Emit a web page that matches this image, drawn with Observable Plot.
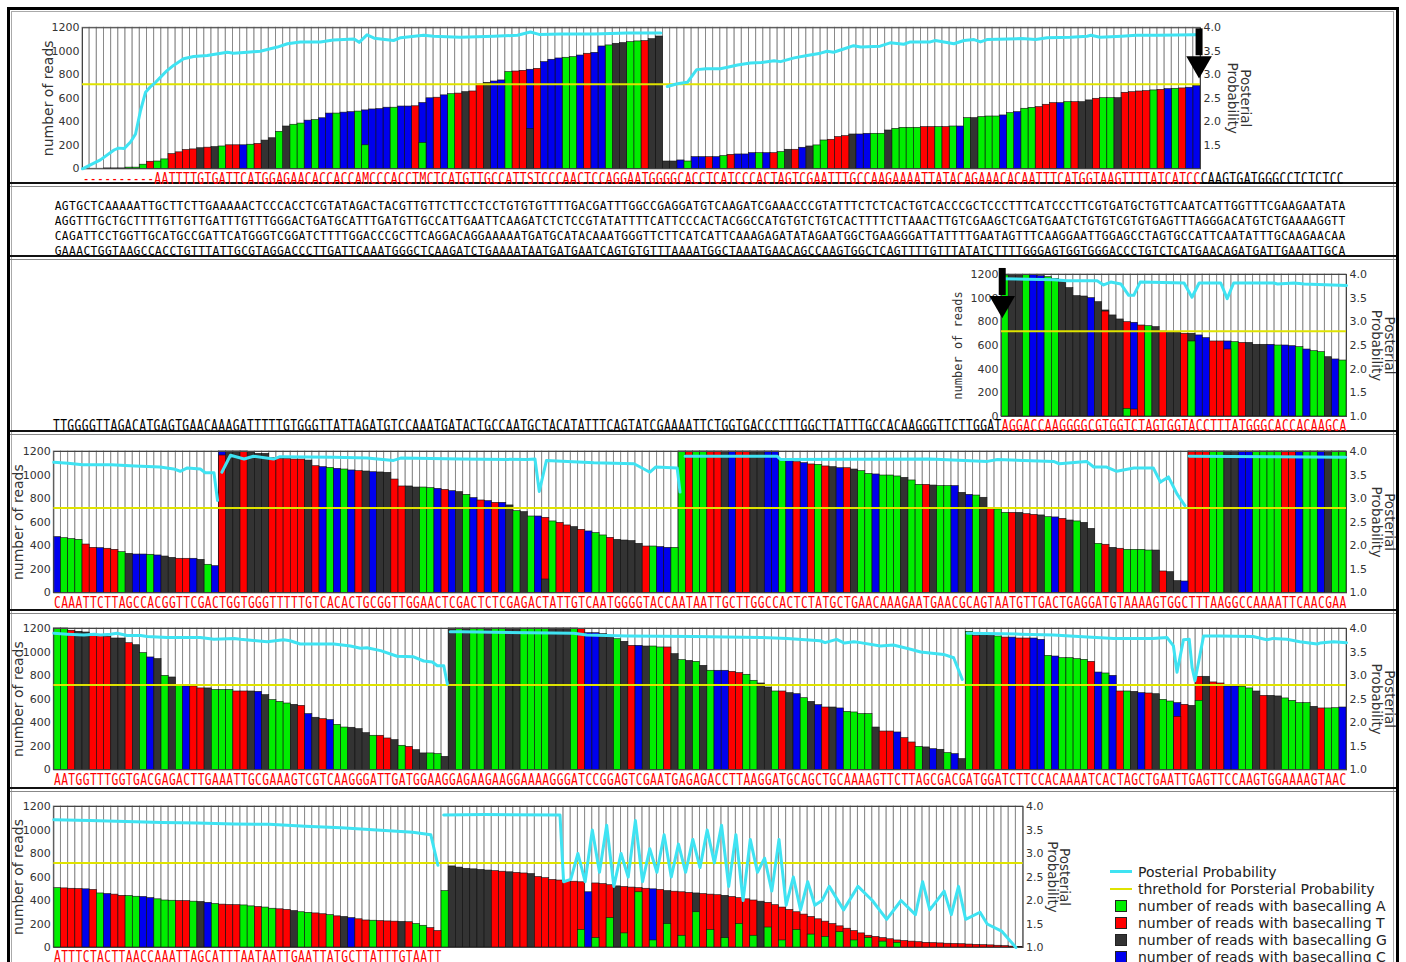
<!DOCTYPE html>
<html><head><meta charset="utf-8">
<script src="https://cdn.jsdelivr.net/npm/d3@7"></script>
<script src="https://cdn.jsdelivr.net/npm/@observablehq/plot@0.6"></script>
<style>
body{margin:0;background:#fff;}
#root{position:relative;width:1406px;height:962px;overflow:hidden;background:#fff;font-family:"DejaVu Sans",sans-serif;}
.abs{position:absolute;}
#legend{position:absolute;left:1110px;top:863px;font:14px "DejaVu Sans",sans-serif;color:#222;}
#legend .it{height:17px;display:flex;align-items:center;white-space:nowrap;}
#legend .sw{width:22px;margin-right:6px;display:flex;align-items:center;justify-content:center;}
</style></head><body><div id="root"></div>
<script>
// ---------------- DATA ----------------
const baseColors = {A:"#00ee00", T:"#ff0000", G:"#333333", C:"#0000ee"};
const leftTicks = [0,200,400,600,800,1000,1200];
const threshold = 2.8;

// Panel 1
const p1Seq = "----------AATTTTGTGATTCATGGAGAACACCACCAMCCCACCTMCTCATGTTGCCATTSTCCCAACTCCAGGAATGGGGCACCTCATCCCACTAGTCGAATTTGCCAAGAAAATTATACAGAAACACAATTTCATGGTAAGTTTTATCATCC";
const p1After = "CAAGTGATGGGCCTCTCTCC";
const p1Reads = [0,0,0,3,3,3,10,10,35,60, 62,80,125,140,160,165,175,180,185,190, 200,200,200,205,212,240,260,315,360,375,
  385,410,415,430,470,470,478,482,487,497, 505,508,520,520,530,530,532,560,600,605, 625,635,640,652,658,718,732,743,752,823,
  828,834,843,851,908,928,939,945,950,964, 979,987,1041,1050,1064,1070,1078,1084,1087,1103, 1126,62,62,71,62,99,99,99,99,108,
  119,122,122,133,133,133,133,142,162,162, 179,190,199,241,247,270,278,292,292,298, 298,298,326,340,349,349,349,355,355,355,
  355,360,360,431,431,440,445,445,454,474, 482,511,519,525,545,559,559,567,567,567, 582,596,601,601,601,647,652,658,661,667,
  672,678,681,684,690,705];
const p1BaseFix = {3:"G",4:"G",5:"G",6:"A",7:"A",8:"A",9:"T",39:"C",47:"C",62:"C"};
const p1Extra = [[39,"A",200],[47,"A",220],[62,"G",340]];
const p1PP = [
 [[0,1.0],[2.5,1.19],[4.4,1.40],[5,1.44],[5.8,1.43],[6.7,1.57],[7.4,1.74],[8.1,2.24],[8.8,2.63],[9.5,2.75],[10.2,2.84],[10.9,2.95],[11.8,3.09],[12.7,3.20],[14.1,3.34],[15.5,3.39],[17.4,3.41],[20.2,3.48],[21.1,3.46],[23,3.48],[24.8,3.50],[27.2,3.59],[28.6,3.66],[30.4,3.70],[33.2,3.70],[35,3.74],[37.9,3.76],[38.6,3.69],[39.7,3.85],[40.7,3.78],[43.4,3.73],[44.4,3.79],[47.6,3.84],[49,3.82],[52.7,3.80],[57.4,3.82],[60.7,3.84],[62.5,3.91],[63.7,3.86],[66.7,3.87],[71.4,3.87],[76,3.89],[80.7,3.89]],
 [[81.6,2.75],[83,2.81],[84.4,2.84],[85.7,3.11],[87,3.13],[89,3.13],[90,3.16],[91.4,3.21],[93.2,3.25],[94.7,3.26],[96.5,3.30],[97.4,3.28],[99.3,3.36],[101.1,3.41],[103,3.46],[103.9,3.50],[104.8,3.48],[106.2,3.55],[107.6,3.62],[108.6,3.59],[111.3,3.61],[112.7,3.68],[114.6,3.65],[115.5,3.70],[118.3,3.70],[119,3.73],[121.6,3.66],[123,3.73],[124.4,3.75],[125.3,3.70],[126.2,3.75],[131,3.77],[133,3.75],[134.6,3.79],[137.9,3.80],[140.2,3.82],[140.7,3.84],[142,3.80],[145,3.82],[147,3.84],[150,3.84],[155.3,3.85]]
];

// Panel 2 (text only)
const p2Rows = [
 "AGTGCTCAAAAATTGCTTCTTGAAAAACTCCCACCTCGTATAGACTACGTTGTTCTTCCTCCTGTGTGTTTTGACGATTTGGCCGAGGATGTCAAGATCGAAACCCGTATTTCTCTCACTGTCACCCGCTCCCTTTCATCCCTTCGTGATGCTGTTCAATCATTGGTTTCGAAGAATATA",
 "AGGTTTGCTGCTTTTGTTGTTGATTTGTTTGGGACTGATGCATTTGATGTTGCCATTGAATTCAAGATCTCTCCGTATATTTTCATTCCCACTACGGCCATGTGTCTGTCACTTTTCTTAAACTTGTCGAAGCTCGATGAATCTGTGTCGTGTGAGTTTAGGGACATGTCTGAAAAGGTT",
 "CAGATTCCTGGTTGCATGCCGATTCATGGGTCGGATCTTTTGGACCCGCTTCAGGACAGGAAAAATGATGCATACAAATGGGTTCTTCATCATTCAAAGAGATATAGAATGGCTGAAGGGATTATTTTGAATAGTTTCAAGGAATTGGAGCCTAGTGCCATTCAATATTTGCAAGAACAA",
 "GAAACTGGTAAGCCACCTGTTTATTGCGTAGGACCCTTGATTCAAATGGGCTCAAGATCTGAAAATAATGATGAATCAGTGTGTTTAAAATGGCTAAATGAACAGCCAAGTGGCTCAGTTTTGTTTATATCTTTTGGGAGTGGTGGGACCCTGTCTCATGAACAGATGATTGAAATTGCA"
];

// Panel 3
const p3Before = "TTGGGGTTAGACATGAGTGAACAAAGATTTTTGTGGGTTATTAGATGTCCAAATGATACTGCCAATGCTACATATTTCAGTATCGAAAATTCTGGTGACCCTTTGGCTTATTTGCCACAAGGGTTCTTGGAT";
const p3Seq = "AGGACCAAGGGGCGTGGTCTAGTGGTACCTTTATGGGCACCACAAGCA";
const p3Reads = [1192,1197,1197,1197,1197,1186,1177,1163,1135,1085, 1017,1014,1000,966,887,854,820,797,792,769,
  763,755,718,713,707,699,634,685,662,634, 634,566,628,622,622,606,606,606,600,600, 594,586,566,552,544,501,482,473];
const p3Extra = [[14,"G",896],[17,"A",65],[18,"T",59],[26,"G",699],[31,"C",634]];
const p3PP = [[[0,3.91],[7.3,3.89],[9.1,3.87],[13.3,3.87],[14.2,3.78],[15.2,3.84],[16.6,3.80],[17.7,3.56],[18.4,3.56],[19.3,3.84],[25.4,3.82],[26.5,3.52],[27.5,3.82],[30.5,3.82],[31.4,3.49],[32.3,3.82],[37.9,3.82],[38.4,3.80],[40.7,3.82],[42.1,3.80],[48,3.77]]];

// Panel 4
const p4Seq = "CAAATTCTTAGCCACGGTTCGACTGGTGGGTTTTTGTCACACTGCGGTTGGAACTCGACTCTCGAGACTATTGTCAATGGGGTACCAATAATTGCTTGGCCACTCTATGCTGAACAAAGAATGAACGCAGTAATGTTGACTGAGGATGTAAAAGTGGCTTTAAGGCCAAAATTCAACGAA";
const p4Reads = [473,464,456,450,410,382,379,374,365,345, 331,325,325,323,317,308,297,289,289,289, 280,238,226,
  1166,1200,1200,1200,1194,1180,1180,1143,1138,1138, 1132,1132,1123,1075,1067,1061,1053,1047,1039,1033,
  1030,1024,1022,1019,962,903,903,894,894,889, 883,874,863,855,832,804,784,778,764,764,
  742,693,685,648,648,637,606,594,572,558, 535,521,507,487,467,450,444,439,416,393, 393,388,382,382,
  1200,1200,1200,1200,1200,1200,1200,1200,1200,1200,1200,1200,1200,1200,
  1138,1123,1109,1101,1090,1087,1073,1067,1058,1058, 1047,1033,1010,1005,996,996,988,976,954,917,
  917,911,906,906,906,849,832,826,807,719, 708,679,679,679,668,662,657,642,640,628,
  614,606,594,543,416,408,382,374,365,365, 365,359,359,181,175,99,96,
  1200,1200,1200,1200,1200,1200,1200,1200,1200,1200,1200,1200,1200,1200,1200,1200,1200,1200,1200,1200,1200,1200];
const p4Extra = [[23,"C",1200],[68,"G",113]];
const p4PP = [
 [[0,3.77],[2,3.75],[4,3.72],[8,3.72],[11.3,3.69],[14.8,3.67],[16.7,3.63],[17.6,3.58],[18.6,3.65],[20.4,3.63],[21.1,3.55],[22.3,3.55],[22.8,2.96]],
 [[23.4,3.56],[24.6,3.92],[26.5,3.84],[27.8,3.90],[30.6,3.84],[31.5,3.89],[39,3.88],[43.6,3.86],[47.3,3.81],[48.3,3.86],[56.6,3.84],[65.9,3.83],[67,3.84],[67.6,3.15],[68.6,3.81],[75.2,3.76],[80.8,3.74],[83,3.56],[83.8,3.67],[86.8,3.65],[87.2,3.14]],
 [[87.9,3.90],[100.7,3.90],[101.2,3.83],[122,3.84],[130,3.79],[131.4,3.83],[139.2,3.79],[140,3.74],[143.8,3.79],[144.8,3.67],[146.6,3.67],[148,3.58],[150.4,3.65],[153.1,3.65],[154.1,3.35],[155.2,3.46],[156.4,3.10],[157.5,2.85]],
 [[158.1,3.90],[170,3.89],[179.9,3.88]]
];

// Panel 5
const p5Seq = "AATGGTTTGGTGACGAGACTTGAAATTGCGAAAGTCGTCAAGGGATTGATGGAAGGAGAAGAAGGAAAAGGGATCCGGAGTCGAATGAGAGACCTTAAGGATGCAGCTGCAAAAGTTCTTAGCGACGATGGATCTTCCACAAAATCACTAGCTGAATTGAGTTCCAAGTGGAAAAGTAAC";
const p5Reads = [1200,1200,1181,1172,1166,1152,1143,1129,1115,1115, 1075,1058,991,954,940,798,784,719,708,708,
  691,691,679,679,679,665,665,665,662,634, 592,577,563,552,543,473,442,430,422,382, 359,357,345,311,289,289,266,252,204,195,
  167,139,139,133,110,
  1200,1200,1200,1200,1200,1200,1200,1200,1200,1200,1200,1200,1200,1200,1200,1200,1200,1200,
  1194,1160,1160,1152,1132,1109,1087,1053,1053,1047, 1047,1039,1039,982,931,925,917,883,841,841,
  841,832,821,807,756,733,699,665,665,651, 642,608,577,549,529,529,521,492,487,473, 473,359,325,325,317,269,232,195,190,175,
  170,142,133,91,
  1172,1138,1138,1138,1132,1123,1123,1115,1115,1115, 1104,968,962,948,948,940,934,917,826,818,
  798,665,665,662,651,648,642,594,580,450, 552,543,586,790,742,733,708,708,705,691, 665,628,628,623,606,586,566,566,535,521, 521,523,529];
const p5Extra = [[156,"C",566],[159,"T",790]];
const p5PP = [
 [[0,3.90],[1.9,3.88],[4.2,3.86],[5.6,3.88],[6.5,3.86],[7.9,3.88],[8.8,3.90],[10.2,3.85],[12.1,3.85],[13,3.83],[15.8,3.81],[20.4,3.81],[22.3,3.77],[25.1,3.79],[26,3.77],[29.7,3.72],[32,3.76],[32.9,3.74],[34.3,3.67],[39,3.67],[41.3,3.63],[42.7,3.58],[43.6,3.59],[45.5,3.53],[47.8,3.41],[50.1,3.40],[51.5,3.31],[52.7,3.29],[53.4,3.21],[54.3,3.21],[54.8,2.82]],
 [[55.2,3.93],[56.6,3.93],[72.4,3.90],[74.2,3.86],[79.8,3.84],[89.1,3.83],[98.4,3.81],[102.1,3.79],[106.7,3.74],[107.4,3.70],[109,3.77],[110.1,3.69],[111.4,3.72],[112.3,3.70],[115.1,3.63],[116.9,3.65],[119.3,3.56],[120.7,3.50],[123.9,3.45],[125.3,3.38],[126.5,2.92]],
 [[127.2,3.90],[134.6,3.88],[139.2,3.86],[141.5,3.84],[147.6,3.79],[153,3.79],[155,3.81],[155.9,3.63],[156.4,3.07],[157.3,3.76],[158.1,3.77],[158.5,3.17],[158.9,2.89],[160.1,3.84],[162.4,3.84],[167,3.83],[168.9,3.76],[169.8,3.79],[171.7,3.77],[173.5,3.72],[175.9,3.67],[176.3,3.69],[178.2,3.72],[180,3.70]]
];

// Panel 6
const p6Seq = "ATTTCTACTTAACCAAATTAGCATTTAATAATTGAATTATGCTTATTTGTAATT";
const p6Hidden = "AGGGGGGTTGTTGTTTTTTTCTTTGTTTTCTGTTTGTTTGTTTTGTTTTTTTTTTTTTTTTTTTTTTTTTTTTTTTTTTTTT";
const p6Reads = [505,503,500,498,495,490,460,455,450,440, 438,432,430,420,410,400,398,396,395,390,
  388,380,370,365,362,360,358,350,345,340, 330,325,320,310,300,295,290,283,275,265, 260,250,240,230,228,225,222,220,218,215,
  200,185,165,140,
  480,690,680,670,665,660,655,650,645,640, 635,630,625,600,590,575,570,565,560,
  555,470,545,540,530,520,515,510,505,500, 495,490,480,475,470,465,460,455,450,445, 440,430,420,410,400,390,380,360,340,320,
  300,280,260,240,220,200,180,160,140,120, 100,90,80,70,60,55,50,45,40,38, 35,32,30,28,25,22,20,18,15,12, 8,5];
const p6Extra = [[73,"A",150],[75,"A",80],[77,"A",250],[79,"A",120],[81,"A",470],[83,"A",60],[85,"A",200],[87,"A",100],[89,"A",300],[91,"A",150],[93,"A",80],[95,"A",200],[97,"A",100],[99,"A",170],[101,"A",60],[103,"A",150],[105,"A",110],[107,"A",90],[109,"A",130],[111,"A",60],[113,"A",80],[115,"A",50],[117,"A",40]];
const p6PP = [
 [[0,3.72],[5,3.70],[10,3.68],[15,3.66],[20,3.65],[25,3.63],[30,3.62],[35,3.58],[40,3.55],[45,3.50],[50,3.45],[52.5,3.40],[53.5,2.75]],
 [[54.3,3.82],[60,3.83],[70.5,3.82],[71,2.4],[72,2.45],[73,3.0],[74,2.4],[75,3.5],[76,2.6],[77,3.6],[78,2.3],[79,3.0],[80,2.5],[81,3.7],[82,2.4],[83,3.1],[84,2.6],[85,3.4],[86,2.5],[87,3.2],[88,2.6],[89,3.3],[90,2.7],[91,3.5],[92,2.8],[93,3.6],[94,2.3],[95,3.4],[96,2.0],[97,3.3],[98,2.6],[99,2.9],[100,2.2],[101,3.3],[102,1.9],[103,2.5],[104,1.8],[105,2.4],[106,1.9],[107,2.0],[108,2.3],[110,1.8],[112,2.3],[114,2.0],[116,1.6],[118,2.0],[120,1.7],[121,2.4],[122,1.8],[124,2.2],[125,1.7],[126,2.3],[127,1.6],[129,1.75],[130,1.5],[132,1.35],[134,1.0]]
];

const legendLabels = ["Posterial Probability","threthold for Porsterial Probability","number of reads with basecalling A","number of reads with basecalling T","number of reads with basecalling G","number of reads with basecalling C"];

// ---------------- DRAWING ----------------
const CYAN = "#3fe3f2", YELLOW = "#dfe300";
const W = 1406;
const root = document.getElementById("root");
const SEQFONT = "DejaVu Sans Mono, monospace";

// narrow the monospaced sequence glyphs to the column pitch (position untouched)
function squeeze(svg, len) {
  svg.querySelectorAll('g[font-family="' + SEQFONT + '"] text').forEach(t => {
    t.setAttribute("textLength", len);
    t.setAttribute("lengthAdjust", "spacingAndGlyphs");
  });
}

function place(svg, top) {
  svg.style.position = "absolute"; svg.style.left = "0px"; svg.style.top = top + "px";
  root.appendChild(svg);
}

function panel(o) {
  const n = o.reads.length;
  const bases = o.seq + (o.hidden || "");
  const bars = [];
  o.reads.forEach((v, i) => {
    const b = (o.fix && o.fix[i]) || bases[i];
    if (v > 0 && baseColors[b]) bars.push({i, b, v});
  });
  (o.extra || []).forEach(([i, b, v]) => bars.push({i, b, v}));
  bars.sort((a, b) => b.v - a.v);
  const letters = [];
  Array.from(o.seq).forEach((ch, i) => letters.push({x: i + 0.5, ch, c: "#ff0000"}));
  const bf = o.before || "";
  Array.from(bf).forEach((ch, k) => letters.push({x: k - bf.length + 0.5, ch, c: "#000000"}));
  Array.from(o.after || "").forEach((ch, k) => letters.push({x: n + k + 0.5, ch, c: "#000000"}));
  const pp = o.pp.flatMap((seg, k) => seg.map(([x, p]) => ({x, y: (p - 1) * 400, k})));
  const H = o.bottom - o.top;
  const marks = [
    Plot.rect(d3.range(n), {x1: d => d, x2: d => d + 1, y1: 0, y2: 1200, fill: "#ffffff", stroke: "#8a8a8a", strokeWidth: 1}),
    Plot.rect(bars, {x1: d => d.i, x2: d => d.i + 1, y1: 0, y2: d => d.v, fill: d => baseColors[d.b], stroke: "#111", strokeWidth: 0.6}),
    Plot.frame({stroke: "#444"}),
    Plot.ruleY([(threshold - 1) * 400], {stroke: YELLOW, strokeWidth: 2}),
    Plot.line(pp, {x: "x", y: "y", z: "k", stroke: CYAN, strokeWidth: 3}),
    Plot.axisY({anchor: "left", ticks: leftTicks, tickFormat: v => String(v), tickSize: 0, tickPadding: 3, label: null}),
    Plot.axisY({anchor: "right", ticks: o.rightTicks, tickFormat: v => (1 + v / 400).toFixed(1), tickSize: 0, tickPadding: 3, label: null}),
    Plot.text([0], {frameAnchor: "left", text: () => "number of reads", rotate: -90, textAnchor: "middle", dx: o.ylabDx,
      fontSize: o.ylabMono ? 12 : 14, fontFamily: o.ylabMono ? "DejaVu Sans Mono" : "DejaVu Sans"}),
    Plot.text([0], {frameAnchor: "right", text: () => "Posterial\nProbability", rotate: 90, textAnchor: "middle", dx: o.rlabDx, fontSize: 13.5, lineHeight: 0.95}),
    Plot.text(letters, {x: "x", y: () => 0, dy: 10, text: "ch", fill: d => d.c, fontFamily: SEQFONT, fontSize: 15})
  ];
  if (o.arrow) {
    const a = o.arrow;
    marks.push(Plot.ruleX([a], {x: d => d.x, y1: d => d.y1, y2: d => d.y2, stroke: "#000", strokeWidth: 7}));
    marks.push(Plot.dot([a], {x: d => d.x, y: d => d.yh, symbol: "triangle", r: 9.5, fill: "#000", stroke: "none", rotate: 180}));
  }
  const svg = Plot.plot({
    width: W, height: H,
    marginLeft: o.left, marginRight: W - o.right,
    marginTop: o.frameTop - o.top, marginBottom: o.bottom - o.frameBottom,
    x: {type: "linear", domain: [0, n], axis: null},
    y: {domain: [0, 1200], axis: null},
    color: {type: "identity"},
    style: {fontFamily: "DejaVu Sans", fontSize: "11px", color: "#333", background: "transparent", overflow: "visible"},
    marks
  });
  squeeze(svg, 6.8);
  place(svg, o.top);
}

// frame + separators
const outer = document.createElement("div");
outer.className = "abs";
Object.assign(outer.style, {left: "7px", top: "7px", width: "1386px", height: "960px", border: "3px solid #000"});
root.appendChild(outer);
const inner = document.createElement("div");
inner.className = "abs";
Object.assign(inner.style, {left: "11px", top: "11px", width: "1381px", height: "960px", border: "1px solid #aaa"});
root.appendChild(inner);
[182, 255, 430, 609, 787].forEach(s => {
  const a = document.createElement("div"); a.className = "abs";
  Object.assign(a.style, {left: "10px", top: s + "px", width: "1386px", height: "2px", background: "#111"});
  const b = document.createElement("div"); b.className = "abs";
  Object.assign(b.style, {left: "10px", top: (s + 3.5) + "px", width: "1386px", height: "1.5px", background: "#888"});
  root.appendChild(a); root.appendChild(b);
});

panel({seq: p1Seq, after: p1After, reads: p1Reads, fix: p1BaseFix, extra: p1Extra, pp: p1PP,
  top: 10, bottom: 182, frameTop: 27.3, frameBottom: 168.3, left: 82, right: 1200,
  rightTicks: [200,400,600,800,1000,1200], ylabDx: -34, rlabDx: 38,
  arrow: {x: 155.8, y1: 1191, y2: 962, yh: 894}});

// Panel 2: text rows
{
  const rowLetters = p2Rows.flatMap((row, r) => Array.from(row).map((ch, k) => ({r, x: k + 0.5, ch})));
  const svg = Plot.plot({
    width: W, height: 69, marginLeft: 54, marginRight: W - 1345, marginTop: 19, marginBottom: 5,
    x: {type: "linear", domain: [0, 180], axis: null},
    y: {type: "point", domain: [0, 1, 2, 3], padding: 0, axis: null},
    style: {background: "transparent", overflow: "visible"},
    marks: [Plot.text(rowLetters, {x: "x", y: "r", text: "ch", fill: "#000", fontFamily: SEQFONT, fontSize: 12.8})]
  });
  squeeze(svg, 6.8);
  place(svg, 186);
}

panel({seq: p3Seq, before: p3Before, reads: p3Reads, extra: p3Extra, pp: p3PP,
  top: 258, bottom: 430, frameTop: 274, frameBottom: 416, left: 1001, right: 1346,
  rightTicks: leftTicks, ylabDx: -43, ylabMono: true, rlabDx: 36,
  arrow: {x: 0.1, y1: 1251, y2: 1022, yh: 955}});

panel({seq: p4Seq, reads: p4Reads, extra: p4Extra, pp: p4PP,
  top: 434, bottom: 609, frameTop: 451, frameBottom: 592.3, left: 53.3, right: 1346,
  rightTicks: leftTicks, ylabDx: -35, rlabDx: 36.5});

panel({seq: p5Seq, reads: p5Reads, extra: p5Extra, pp: p5PP,
  top: 613, bottom: 787, frameTop: 628, frameBottom: 769.3, left: 53.3, right: 1346,
  rightTicks: leftTicks, ylabDx: -35, rlabDx: 36.5});

panel({seq: p6Seq, hidden: p6Hidden, reads: p6Reads, extra: p6Extra, pp: p6PP,
  top: 791, bottom: 962, frameTop: 806, frameBottom: 947, left: 53.3, right: 53.3 + 135 * 7.18,
  rightTicks: leftTicks, ylabDx: -35, rlabDx: 35});

// legend
{
  const lg = document.createElement("div"); lg.id = "legend";
  const sw = [
    `<div style="width:22px;height:3px;background:${CYAN}"></div>`,
    `<div style="width:22px;height:2px;background:${YELLOW}"></div>`,
    `<div style="width:10px;height:10px;background:${baseColors.A};border:1px solid #222"></div>`,
    `<div style="width:10px;height:10px;background:${baseColors.T};border:1px solid #222"></div>`,
    `<div style="width:10px;height:10px;background:${baseColors.G};border:1px solid #222"></div>`,
    `<div style="width:10px;height:10px;background:${baseColors.C};border:1px solid #222"></div>`
  ];
  lg.innerHTML = legendLabels.map((t, k) => `<div class="it"><div class="sw">${sw[k]}</div><span>${t}</span></div>`).join("");
  root.appendChild(lg);
}
</script></body></html>
